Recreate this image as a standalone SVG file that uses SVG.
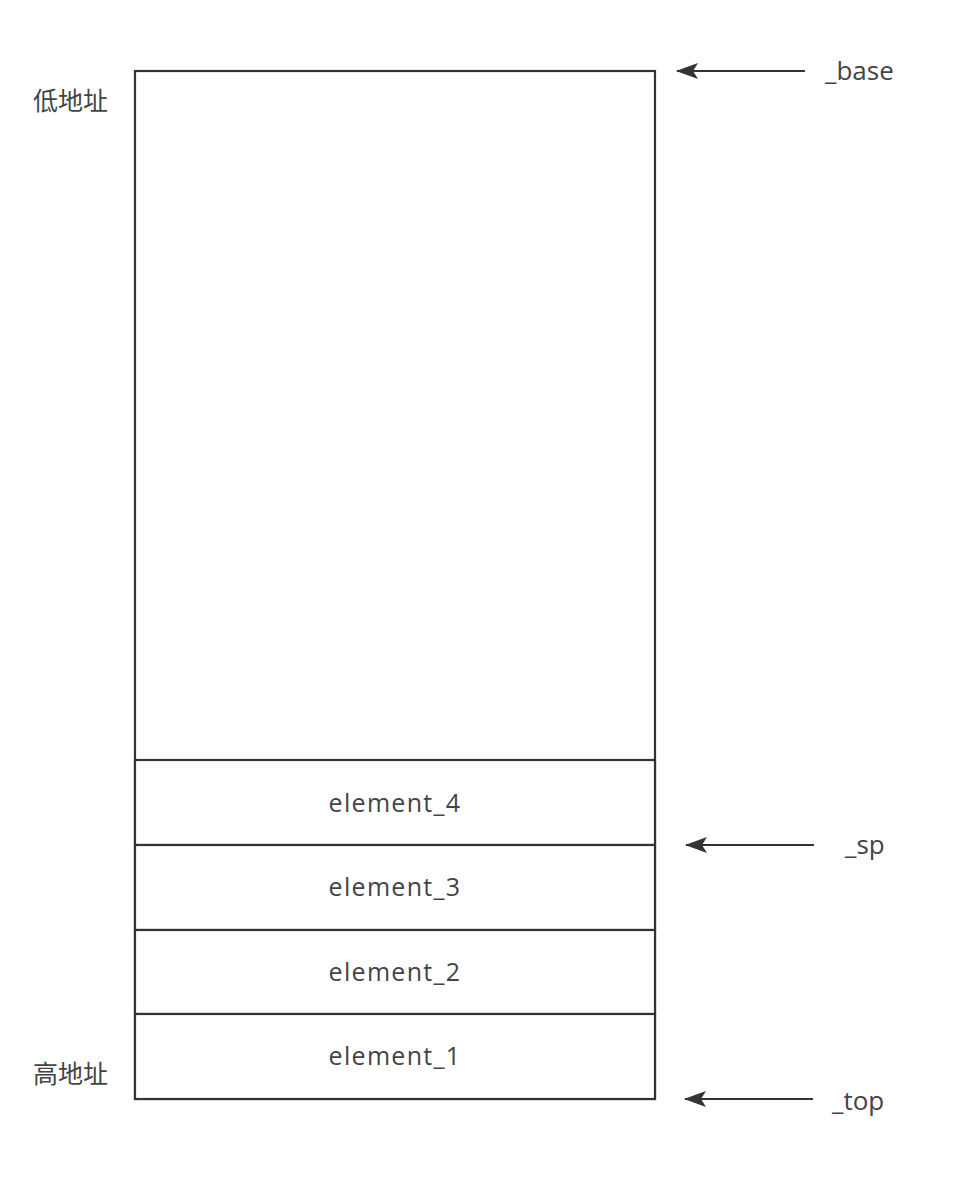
<svg xmlns="http://www.w3.org/2000/svg" width="958" height="1180" viewBox="0 0 958 1180">
<style>
.box{fill:#fff;stroke:#333;stroke-width:2.2}
.lbl{font-family:"Open Sans","Noto Sans CJK SC",sans-serif;font-size:26px;fill:#444}
.cn{font-family:"Noto Sans CJK SC",sans-serif;font-size:25px;fill:#444}
.el{font-family:"Open Sans","Noto Sans",sans-serif;font-size:25px;letter-spacing:1.3px;fill:#444;text-anchor:middle}
.conn{stroke:#333;stroke-width:2.2;fill:none;marker-end:url(#ah)}
</style>
<defs>
<marker id="ah" viewBox="0 0 22 16" refX="21" refY="8" markerWidth="22" markerHeight="16" markerUnits="userSpaceOnUse" orient="auto">
<path d="M0,0 L22,8 L0,16 L5,8 Z" fill="#333"/>
</marker>
</defs>
<rect width="958" height="1180" fill="#fff"/>
<g id="stack">
<rect class="box" x="135" y="71" width="520" height="1028"/>
</g>
<g id="element_4">
<rect class="box" x="135" y="760" width="520" height="85"/>
<text class="el" x="395" y="812">element_4</text>
</g>
<g id="element_3">
<rect class="box" x="135" y="845" width="520" height="85"/>
<text class="el" x="395" y="896">element_3</text>
</g>
<g id="element_2">
<rect class="box" x="135" y="930" width="520" height="84"/>
<text class="el" x="395" y="981">element_2</text>
</g>
<g id="element_1">
<rect class="box" x="135" y="1014" width="520" height="85"/>
<text class="el" x="395" y="1065">element_1</text>
</g>
<g id="labels">
<text class="cn" x="33" y="110">低地址</text>
<text class="cn" x="33" y="1083">高地址</text>
<text class="lbl" x="825" y="80">_base</text>
<text class="lbl" x="845" y="854">_sp</text>
<text class="lbl" x="832" y="1110">_top</text>
</g>
<g id="connectors">
<line class="conn" x1="805" y1="71" x2="677" y2="71"/>
<line class="conn" x1="814" y1="845" x2="686" y2="845"/>
<line class="conn" x1="813" y1="1099" x2="685" y2="1099"/>
</g>
</svg>
